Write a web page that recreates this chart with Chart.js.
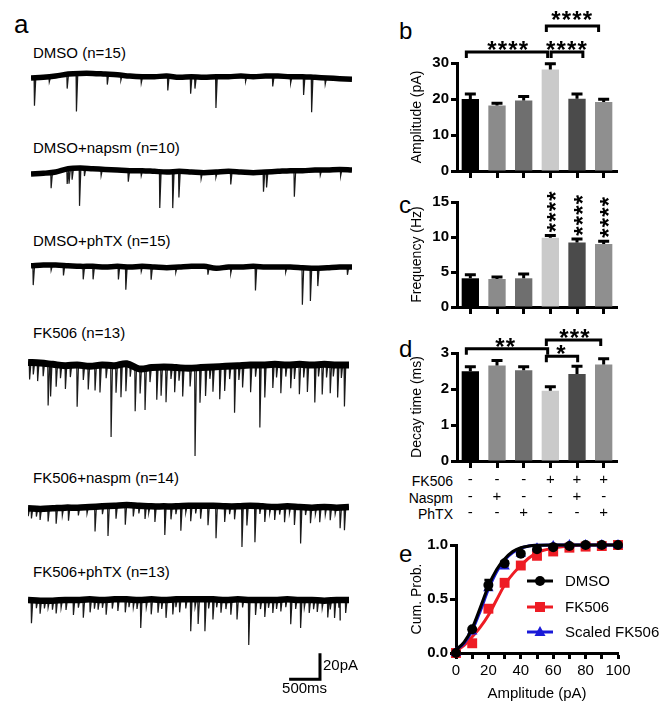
<!DOCTYPE html>
<html><head><meta charset="utf-8">
<script src="https://cdn.jsdelivr.net/npm/chart.js@4.4.0/dist/chart.umd.min.js"></script>
<style>
html,body{margin:0;padding:0;background:#fff;}
body{width:669px;height:714px;position:relative;overflow:hidden;font-family:"Liberation Sans",Arial,sans-serif;color:#000;}
canvas{position:absolute;}
.t{position:absolute;white-space:nowrap;color:#000;line-height:1;}
</style></head><body>
<div class="t" style="left:14px;top:11px;font-size:26px">a</div>
<div class="t" style="left:399px;top:19px;font-size:24px">b</div>
<div class="t" style="left:399px;top:193px;font-size:24px">c</div>
<div class="t" style="left:399px;top:337px;font-size:24px">d</div>
<div class="t" style="left:399px;top:542px;font-size:24px">e</div>
<div id="rows"></div>
<div id="tlabels"></div>
<canvas id="tr0" width="345" height="104" style="left:31px;top:65px"></canvas>
<canvas id="tr1" width="345" height="104" style="left:31px;top:159px"></canvas>
<canvas id="tr2" width="345" height="104" style="left:31px;top:254px"></canvas>
<canvas id="tr3" width="345" height="104" style="left:28px;top:352px"></canvas>
<canvas id="tr4" width="345" height="104" style="left:28px;top:494px"></canvas>
<canvas id="tr5" width="345" height="117" style="left:28px;top:587px"></canvas>
<canvas id="cb" width="269" height="185" style="left:400px;top:0px"></canvas>
<canvas id="cc" width="269" height="135" style="left:400px;top:185px"></canvas>
<canvas id="cd" width="269" height="210" style="left:400px;top:320px"></canvas>
<canvas id="ce" width="269" height="184" style="left:400px;top:530px"></canvas>
<script>
// ---------------- DATA ----------------
const groups = ['DMSO','DMSO+Naspm','DMSO+PhTX','FK506','FK506+Naspm','FK506+PhTX'];
const ampMean = [20.0,18.2,19.6,28.2,20.1,19.2];
const ampSem = [1.4,0.6,1.1,1.6,1.3,0.7];
const freqMean = [4.1,4.0,4.1,9.9,9.2,9.0];
const freqSem = [0.5,0.3,0.6,0.3,0.5,0.4];
const decayMean = [2.49,2.65,2.52,1.95,2.42,2.68];
const decaySem = [0.13,0.14,0.10,0.11,0.21,0.16];
const rowNames = ['FK506','Naspm','PhTX'];
const rowFK506 = ['-','-','-','+','+','+'];
const rowNaspm = ['-','+','-','-','+','-'];
const rowPhTX  = ['-','-','+','-','-','+'];
const ampSigPairs = [[0,3,'****'],[3,4,'****'],[3,5,'****']];
const freqSigBars = [3,4,5];
const freqSigText = '****';
const decaySigPairs = [[0,3,'**'],[3,4,'*'],[3,5,'***']];

const seriesNames = ['DMSO','FK506','Scaled FK506'];
const ampBins   = [0,10,20,30,40,50,60,70,80,90,100];
const cumDMSO   = [0,0.22,0.63,0.83,0.92,0.96,0.98,0.99,1,1,1];
const cumDMSOsem= [0,0.01,0.045,0.02,0.01,0.01,0,0,0,0,0];
const cumFK506  = [0,0.09,0.41,0.65,0.81,0.90,0.94,0.975,0.985,0.99,1];
const cumScaled = [0,0.20,0.60,0.80,0.92,0.97,0.99,1,1,1,1];
const fitX      = [0,5,10,15,20,25,30,35,40,45,50,60,70,80,90,100];
const fitDMSO   = [0.03,0.10,0.23,0.42,0.62,0.77,0.87,0.94,0.975,0.99,0.997,1,1,1,1,1];
const fitScaled = [0.03,0.09,0.21,0.39,0.59,0.75,0.86,0.93,0.97,0.99,0.997,1,1,1,1,1];
const fitFK506  = [0.02,0.07,0.15,0.24,0.35,0.49,0.63,0.73,0.81,0.88,0.93,0.97,0.99,1,1,1];

const traceNames = ['DMSO (n=15)','DMSO+napsm (n=10)','DMSO+phTX (n=15)','FK506 (n=13)','FK506+naspm (n=14)','FK506+phTX (n=13)'];
const traceTime = [0,200,400,600,800,1000,1200,1400,1600,1800,2000,2200,2400,2600,2800,3000,3200,3400,3600,3800,4000,4200,4400,4600,4800,5000,5200];
const base0 = [0,0.5,1.5,3,3.5,3.5,3,2.5,1.5,1,1,1.5,0.5,1,0.5,1,1,1.5,1,1.5,1.5,1,1,0.5,0,-0.5,-1];
const base1 = [-1.5,-1,0,2.5,3,2.5,2,1.5,1,1,0.5,0,0.5,0,-0.5,0,0.5,0,-0.5,0,0.5,1,1,1.5,1.5,2,1.5];
const base2 = [1,1.5,1.5,1,0.5,0.5,0,0.5,0,0.5,0,-0.5,0,0.5,0.5,-1,0,0,0.5,0,0,0,-0.5,-1,-0.5,0,0];
const base3 = [2,1.5,0.5,-0.5,0,-1,0,-0.5,1,-3,-2,-1.5,-2,-2.5,-2,-1.5,-1,-0.5,0,0,0.5,0,0.5,0,0.5,0,0];
const base4 = [-1,-1.5,-1,-0.5,-0.5,0,0.5,1,1.5,1,0.5,0.5,0.5,1,1,1,0.5,0.5,1,0.5,0,0.5,0,-0.5,0,-0.5,0];
const base5 = [0,-0.5,-0.5,0,0,0.5,0,0.5,0.5,0,0.5,0,0.5,0.5,0.5,0.5,0,0.5,0,0,0,0.5,0,0,-0.5,0,0];
// event times (ms) and amplitudes (pA)
const ev0T = [50,290,580,730,1230,1450,1780,2210,2580,2650,2990,3470,3910,4200,4410,4540,4760];
const ev0A = [21.5,4,11,29,8,4,5,11,13,9,24,4,8,5,14,27,5];
const ev1T = [320,580,610,660,780,860,1130,1570,1780,2080,2290,2390,2750,2990,3230,3760,3810,4260,4680,5010];
const ev1A = [12,11.5,11.5,8.5,29,6,5,8.5,4,28,28,20,5,4,10,15,12,20,4,5];
const ev2T = [30,320,520,840,1000,1410,1530,1780,1940,2340,2860,3230,3630,4120,4390,4520,4640,5120];
const ev2A = [15,4,7.7,10,10,10,17.7,4,10,4,6,5,18.5,4,28.5,25.4,13.8,6];
const ev3T = [20,80,150,240,320,360,450,520,600,680,790,890,970,1080,1160,1260,1340,1420,1500,1580,1650,1730,1810,1890,1970,2080,2150,2230,2310,2370,2440,2500,2620,2700,2780,2870,2940,2990,3100,3180,3260,3340,3410,3470,3600,3680,3750,3830,3960,4020,4090,4170,4250,4310,4390,4460,4520,4640,4700,4760,4830,4890,4940,5010,5070,5120];
const ev3A = [13,9,14,10,32,25,17,10,18,9,32,11,18,19,21,10,55,21,25,21,9,34,19,32,11,25,22,27,9,19,10,22,14,68,27,22,9,19,25,19,10,36,11,17,21,9,48,25,18,10,22,9,18,11,23,10,21,29,9,23,10,22,9,25,10,32];
const ev4T = [0,50,130,190,320,450,550,650,810,950,1080,1200,1290,1420,1570,1700,1790,1890,1950,2050,2210,2310,2390,2470,2550,2630,2710,2790,2910,3040,3180,3260,3340,3460,3540,3670,3750,3830,3910,3990,4070,4150,4230,4310,4410,4490,4570,4650,4720,4810,4890,4970,5050,5120];
const ev4A = [6,7.7,6,8.5,10,12,6,10,6,5,19,6,23,10,15,8.5,6,10,5,12,22,10,6,19,5,12,6,10,15,25,12,6,10,31.5,15,28,6,12,5,10,6,12,5,14,28,6,12,5,11.5,6,10,5,16,17.7];
const ev5T = [50,130,190,260,320,390,450,530,610,730,810,890,1000,1070,1130,1200,1260,1360,1450,1570,1630,1700,1760,1820,1910,1990,2100,2160,2230,2340,2390,2450,2550,2630,2700,2750,2860,2920,2990,3050,3120,3200,3280,3380,3470,3570,3680,3760,3830,3890,3960,4020,4090,4170,4250,4330,4410,4470,4550,4620,4680,4760,4850,4890,4960,5030,5050,5140];
const ev5A = [17.7,6,10,6,5.4,7,10,6,7.7,11.5,6,13.8,10,7,7.7,6,11.5,7,9,10,6,6,7,21.5,6,11.5,10,7,13.8,11.5,6,10,7,24.6,6,19,24.6,7,15.4,6,10,7,11.5,15.4,6,34.6,11.5,7,13,6,10,7,9,6,19,7,21.5,6,10,7,9,6,13,7,13.8,6,15.4,10];
const scaleBarMs = 500, scaleBarPA = 20;

// ---------------- HELPERS ----------------
const FONT = '"Liberation Sans", Arial, Helvetica, sans-serif';
Chart.defaults.font.family = FONT;
Chart.defaults.color = '#000';

(function(){
  const tl = document.getElementById('tlabels');
  const tops = [45,140,233,325,470,564];
  traceNames.forEach((n,i)=>{
    const d=document.createElement('div'); d.className='t'; d.textContent=n;
    d.style.cssText='left:33px;top:'+tops[i]+'px;font-size:15px'; tl.appendChild(d);
  });
  const rows = document.getElementById('rows');
  const rt = [474,491,507];
  rowNames.forEach((n,i)=>{
    const d=document.createElement('div'); d.className='t'; d.textContent=n;
    d.style.cssText='right:216px;top:'+rt[i]+'px;font-size:14px;text-align:right'; rows.appendChild(d);
  });
})();

function interp(ts, vs, t){
  if (t<=ts[0]) return vs[0];
  for (let i=1;i<ts.length;i++){ if (t<=ts[i]) { const f=(t-ts[i-1])/(ts[i]-ts[i-1]); return vs[i-1]+f*(vs[i]-vs[i-1]); } }
  return vs[vs.length-1];
}

const scaleBarPlugin = {
  id:'scalebar',
  afterDraw(chart, args, opts){
    if (!opts || !opts.show) return;
    const ctx=chart.ctx, xs=chart.scales.x, ys=chart.scales.y;
    const x1=xs.getPixelForValue(opts.t), x0=xs.getPixelForValue(opts.t-scaleBarMs);
    const yb=ys.getPixelForValue(opts.v), yt=ys.getPixelForValue(opts.v+scaleBarPA);
    ctx.save(); ctx.strokeStyle='#000'; ctx.lineWidth=3; ctx.lineCap='butt';
    ctx.beginPath(); ctx.moveTo(x0,yb); ctx.lineTo(x1+1.5,yb); ctx.moveTo(x1,yb); ctx.lineTo(x1,yt); ctx.stroke();
    ctx.fillStyle='#000'; ctx.font='15px '+FONT; ctx.textBaseline='middle';
    ctx.textAlign='left'; ctx.fillText(scaleBarPA+'pA', x1+3, (yb+yt)/2);
    ctx.textAlign='center'; ctx.fillText(scaleBarMs+'ms', (x0+x1)/2, yb+10);
    ctx.restore();
  }
};

function makeTrace(id, base, evT, evA, yMin, bandW, bar){
  const band = traceTime.map((t,i)=>({x:t,y:base[i]}));
  const ev = [];
  evT.forEach((t,i)=>{ const b=interp(traceTime,base,t); ev.push({x:t,y:b},{x:t+6,y:b-evA[i]},{x:t+28,y:b}); });
  ev.unshift({x:0,y:base[0]}); ev.push({x:5200,y:base[base.length-1]});
  ev.sort((a,b)=>a.x-b.x);
  new Chart(document.getElementById(id), {
    type:'line',
    data:{datasets:[
      {data:band, borderColor:'#000', borderWidth:bandW, pointRadius:0, tension:0.35, borderJoinStyle:'round', borderCapStyle:'butt'},
      {data:ev, borderColor:'#1a1a1a', borderWidth:1.2, pointRadius:0, tension:0}
    ]},
    options:{responsive:false, animation:false, events:[],
      layout:{padding:{left:0,right:24,top:0,bottom:0}},
      plugins:{legend:{display:false}, tooltip:{enabled:false}, scalebar:{show:!!bar, t:4730, v:-61}},
      scales:{x:{type:'linear',min:0,max:5200,display:false}, y:{min:yMin,max:10,display:false}}},
    plugins:[scaleBarPlugin]
  });
}
makeTrace('tr0', base0, ev0T, ev0A, -70, 5.5, false);
makeTrace('tr1', base1, ev1T, ev1A, -70, 5.5, false);
makeTrace('tr2', base2, ev2T, ev2A, -70, 5.5, false);
makeTrace('tr3', base3, ev3T, ev3A, -70, 7, false);
makeTrace('tr4', base4, ev4T, ev4A, -70, 6.5, false);
makeTrace('tr5', base5, ev5T, ev5A, -80, 6.5, true);

// ---------------- BAR CHARTS ----------------
const barColors = ['#000000','#8b8b8b','#6f6f6f','#cacaca','#4b4b4b','#8f8f8f'];

function drawStar(ctx, x, y, size, rot){
  ctx.save(); ctx.translate(x,y); if (rot) ctx.rotate(rot);
  ctx.font='bold '+size+'px '+FONT; ctx.textAlign='center'; ctx.textBaseline='alphabetic';
  ctx.fillText('*', 0, 0.57*size); ctx.restore();
}
const errPlugin = { id:'errbars', afterDatasetsDraw(chart, args, opts){
  if (!opts || !opts.sem) return;
  const meta=chart.getDatasetMeta(0), ys=chart.scales.y, ctx=chart.ctx, mean=chart.data.datasets[0].data;
  ctx.save(); ctx.strokeStyle='#000'; ctx.lineWidth=3;
  meta.data.forEach((bar,i)=>{ const yt=ys.getPixelForValue(mean[i]+opts.sem[i]);
    ctx.beginPath(); ctx.moveTo(bar.x, bar.y); ctx.lineTo(bar.x, yt); ctx.moveTo(bar.x-5.5, yt); ctx.lineTo(bar.x+5.5, yt); ctx.stroke(); });
  ctx.restore();
}};
const sigPlugin = { id:'sig', afterDatasetsDraw(chart, args, opts){
  if (!opts) return;
  const ctx=chart.ctx, xs=chart.scales.x, ys=chart.scales.y;
  const x0=xs.getPixelForValue(0), step=xs.getPixelForValue(1)-x0, X=f=>x0+f*step;
  ctx.save(); ctx.strokeStyle='#000'; ctx.fillStyle='#000'; ctx.lineWidth=3; ctx.lineJoin='miter';
  (opts.brackets||[]).forEach(b=>{
    const y=ys.getPixelForValue(b.level);
    ctx.beginPath(); ctx.moveTo(X(b.from), y+6); ctx.lineTo(X(b.from), y); ctx.lineTo(X(b.to), y); ctx.lineTo(X(b.to), y+6); ctx.stroke();
    const n=b.text.length, cy=ys.getPixelForValue(b.textLevel), cx=X(b.at);
    for (let k=0;k<n;k++) drawStar(ctx, cx+(k-(n-1)/2)*10.5, cy, 24, 0);
  });
  if (opts.vstars){
    const mean=chart.data.datasets[0].data, meta=chart.getDatasetMeta(0);
    opts.vstars.bars.forEach(i=>{
      const top=ys.getPixelForValue(mean[i]+opts.vstars.sem[i]);
      for (let k=0;k<opts.vstars.text.length;k++) drawStar(ctx, meta.data[i].x, top-8-k*10.5, 24, -Math.PI/2);
    });
  }
  ctx.restore();
}};

function barChart(id, mean, sem, yMax, yStep, title, pad, xHeight, sig, xlabels){
  const tickFont = {size:15, weight:'bold', family:FONT};
  return new Chart(document.getElementById(id), {
    type:'bar',
    data:{labels:groups, datasets:[{data:mean, backgroundColor:barColors, borderWidth:0, barPercentage:0.65, categoryPercentage:1}]},
    options:{responsive:false, animation:false, events:[],
      layout:{padding:pad},
      plugins:{legend:{display:false}, tooltip:{enabled:false}, errbars:{sem:sem}, sig:sig},
      scales:{
        x:{grid:{display:true, drawOnChartArea:false, drawTicks:true, tickLength:7, tickWidth:3, tickColor:'#000', offset:false},
           border:{display:true, width:3, color:'#000'},
           ticks: xlabels ? {display:true, autoSkip:false, maxRotation:0, padding:4, color:'#000', font:{size:15, lineHeight:1.1, family:FONT}, callback:(v,i)=>xlabels.map(r=>r[i])} : {display:false},
           afterFit:s=>{s.height=xHeight;}},
        y:{min:0, max:yMax,
           ticks:{stepSize:yStep, font:tickFont, color:'#000', padding:2},
           grid:{display:true, drawOnChartArea:false, drawTicks:true, tickLength:6, tickWidth:3, tickColor:'#000'},
           border:{display:true, width:3, color:'#000'},
           title:{display:true, text:title, font:{size:14, family:FONT}, color:'#000', padding:0},
           afterFit:s=>{s.width=48;}}
      }},
    plugins:[errPlugin, sigPlugin]
  });
}

barChart('cb', ampMean, ampSem, 30, 10, 'Amplitude (pA)', {left:9,top:63,right:52,bottom:4}, 10,
  {brackets:[
    {from:-0.15, to:2.9, level:33.05, text:ampSigPairs[0][2], at:1.4, textLevel:35.3},
    {from:3.03, to:4.22, level:33.05, text:ampSigPairs[1][2], at:3.6, textLevel:35.3},
    {from:2.85, to:4.81, level:40.3, text:ampSigPairs[2][2], at:3.8, textLevel:43.4}]}, null);
barChart('cc', freqMean, freqSem, 15, 5, 'Frequency (Hz)', {left:9,top:17,right:52,bottom:3}, 10,
  {vstars:{bars:freqSigBars, sem:freqSem, text:freqSigText}}, null);
barChart('cd', decayMean, decaySem, 3, 1, 'Decay time (ms)', {left:9,top:33,right:52,bottom:0}, 69,
  {brackets:[
    {from:-0.15, to:2.9, level:3.12, text:decaySigPairs[0][2], at:1.31, textLevel:3.33},
    {from:2.85, to:4.025, level:2.91, text:decaySigPairs[1][2], at:3.4, textLevel:3.12},
    {from:2.85, to:4.89, level:3.36, text:decaySigPairs[2][2], at:3.9, textLevel:3.58}]},
  [rowFK506, rowNaspm, rowPhTX]);

// ---------------- CUMULATIVE ----------------
const RED='#ee1c24', BLUE='#1a1ad8';
const pts=(xs,ys)=>xs.map((x,i)=>({x:x,y:ys[i]}));
const ptErr = { id:'pterr', afterDatasetsDraw(chart, args, opts){
  const ctx=chart.ctx, ys=chart.scales.y, meta=chart.getDatasetMeta(opts.ds), d=chart.data.datasets[opts.ds].data;
  ctx.save(); ctx.strokeStyle='#000'; ctx.lineWidth=2.5;
  meta.data.forEach((p,i)=>{ const s=opts.sem[i]; if (s<0.015) return;
    const a=ys.getPixelForValue(d[i].y+s), b=ys.getPixelForValue(d[i].y-s);
    ctx.beginPath(); ctx.moveTo(p.x,a); ctx.lineTo(p.x,b); ctx.moveTo(p.x-4,a); ctx.lineTo(p.x+4,a); ctx.moveTo(p.x-4,b); ctx.lineTo(p.x+4,b); ctx.stroke(); });
  ctx.restore();
}};
function marker(ctx, style, x, y, color){
  ctx.fillStyle=color; ctx.beginPath();
  if (style==='circle') ctx.arc(x,y,5,0,Math.PI*2);
  else if (style==='rect') ctx.rect(x-5,y-5,10,10);
  else { ctx.moveTo(x,y-6); ctx.lineTo(x+5.5,y+4); ctx.lineTo(x-5.5,y+4); ctx.closePath(); }
  ctx.fill();
}
const eLegend = { id:'elegend', afterDraw(chart){
  const ctx=chart.ctx;
  const items=[['circle','#000'],['rect',RED],['triangle',BLUE]];
  const ys=[51,77,102];
  ctx.save();
  items.forEach((it,i)=>{
    ctx.strokeStyle=it[1]; ctx.lineWidth=3; ctx.beginPath(); ctx.moveTo(127,ys[i]); ctx.lineTo(153,ys[i]); ctx.stroke();
    marker(ctx, it[0], 140, ys[i], it[1]);
    ctx.fillStyle='#000'; ctx.font='15px '+FONT; ctx.textAlign='left'; ctx.textBaseline='middle';
    ctx.fillText(seriesNames[i], 165, ys[i]+1);
  });
  ctx.restore();
}};
new Chart(document.getElementById('ce'), {
  type:'line',
  data:{datasets:[
    {label:seriesNames[0], data:pts(ampBins,cumDMSO), showLine:false, pointStyle:'circle', pointRadius:5, pointBorderWidth:0, backgroundColor:'#000', borderColor:'#000', clip:false},
    {data:pts(fitX,fitDMSO), borderColor:'#000', borderWidth:3, pointRadius:0, cubicInterpolationMode:'monotone', clip:false},
    {label:seriesNames[2], data:pts(ampBins,cumScaled), showLine:false, pointStyle:'triangle', pointRadius:6, pointBorderWidth:0, backgroundColor:BLUE, borderColor:BLUE, clip:false},
    {data:pts(fitX,fitScaled), borderColor:BLUE, borderWidth:3, pointRadius:0, cubicInterpolationMode:'monotone', clip:false},
    {label:seriesNames[1], data:pts(ampBins,cumFK506), showLine:false, pointStyle:'rect', pointRadius:7, pointBorderWidth:0, backgroundColor:RED, borderColor:RED, clip:false},
    {data:pts(fitX,fitFK506), borderColor:RED, borderWidth:3, pointRadius:0, cubicInterpolationMode:'monotone', clip:false}
  ]},
  options:{responsive:false, animation:false, events:[],
    layout:{padding:{left:9,top:15,right:51,bottom:9}},
    plugins:{legend:{display:false}, tooltip:{enabled:false}, pterr:{ds:0, sem:cumDMSOsem}},
    scales:{
      x:{type:'linear', min:0, max:100,
         ticks:{stepSize:10, autoSkip:false, maxRotation:0, padding:3, color:'#000', font:{size:15, family:FONT}, callback:v=>(v%20===0?v:'')},
         grid:{display:true, drawOnChartArea:false, tickLength:6, tickWidth:3, tickColor:'#000'},
         border:{display:true, width:3, color:'#000'},
         title:{display:true, text:'Amplitude (pA)', font:{size:15, family:FONT}, color:'#000', padding:{top:0,bottom:2}},
         afterFit:s=>{s.height=52;}},
      y:{min:0, max:1,
         ticks:{stepSize:0.5, padding:2, color:'#000', font:{size:15, weight:'bold', family:FONT}, callback:v=>v.toFixed(1)},
         grid:{display:true, drawOnChartArea:false, tickLength:6, tickWidth:3, tickColor:'#000'},
         border:{display:true, width:3, color:'#000'},
         title:{display:true, text:'Cum. Prob.', font:{size:14, family:FONT}, color:'#000', padding:0},
         afterFit:s=>{s.width=47;}}
    }},
  plugins:[ptErr, eLegend]
});
</script>
</body></html>
